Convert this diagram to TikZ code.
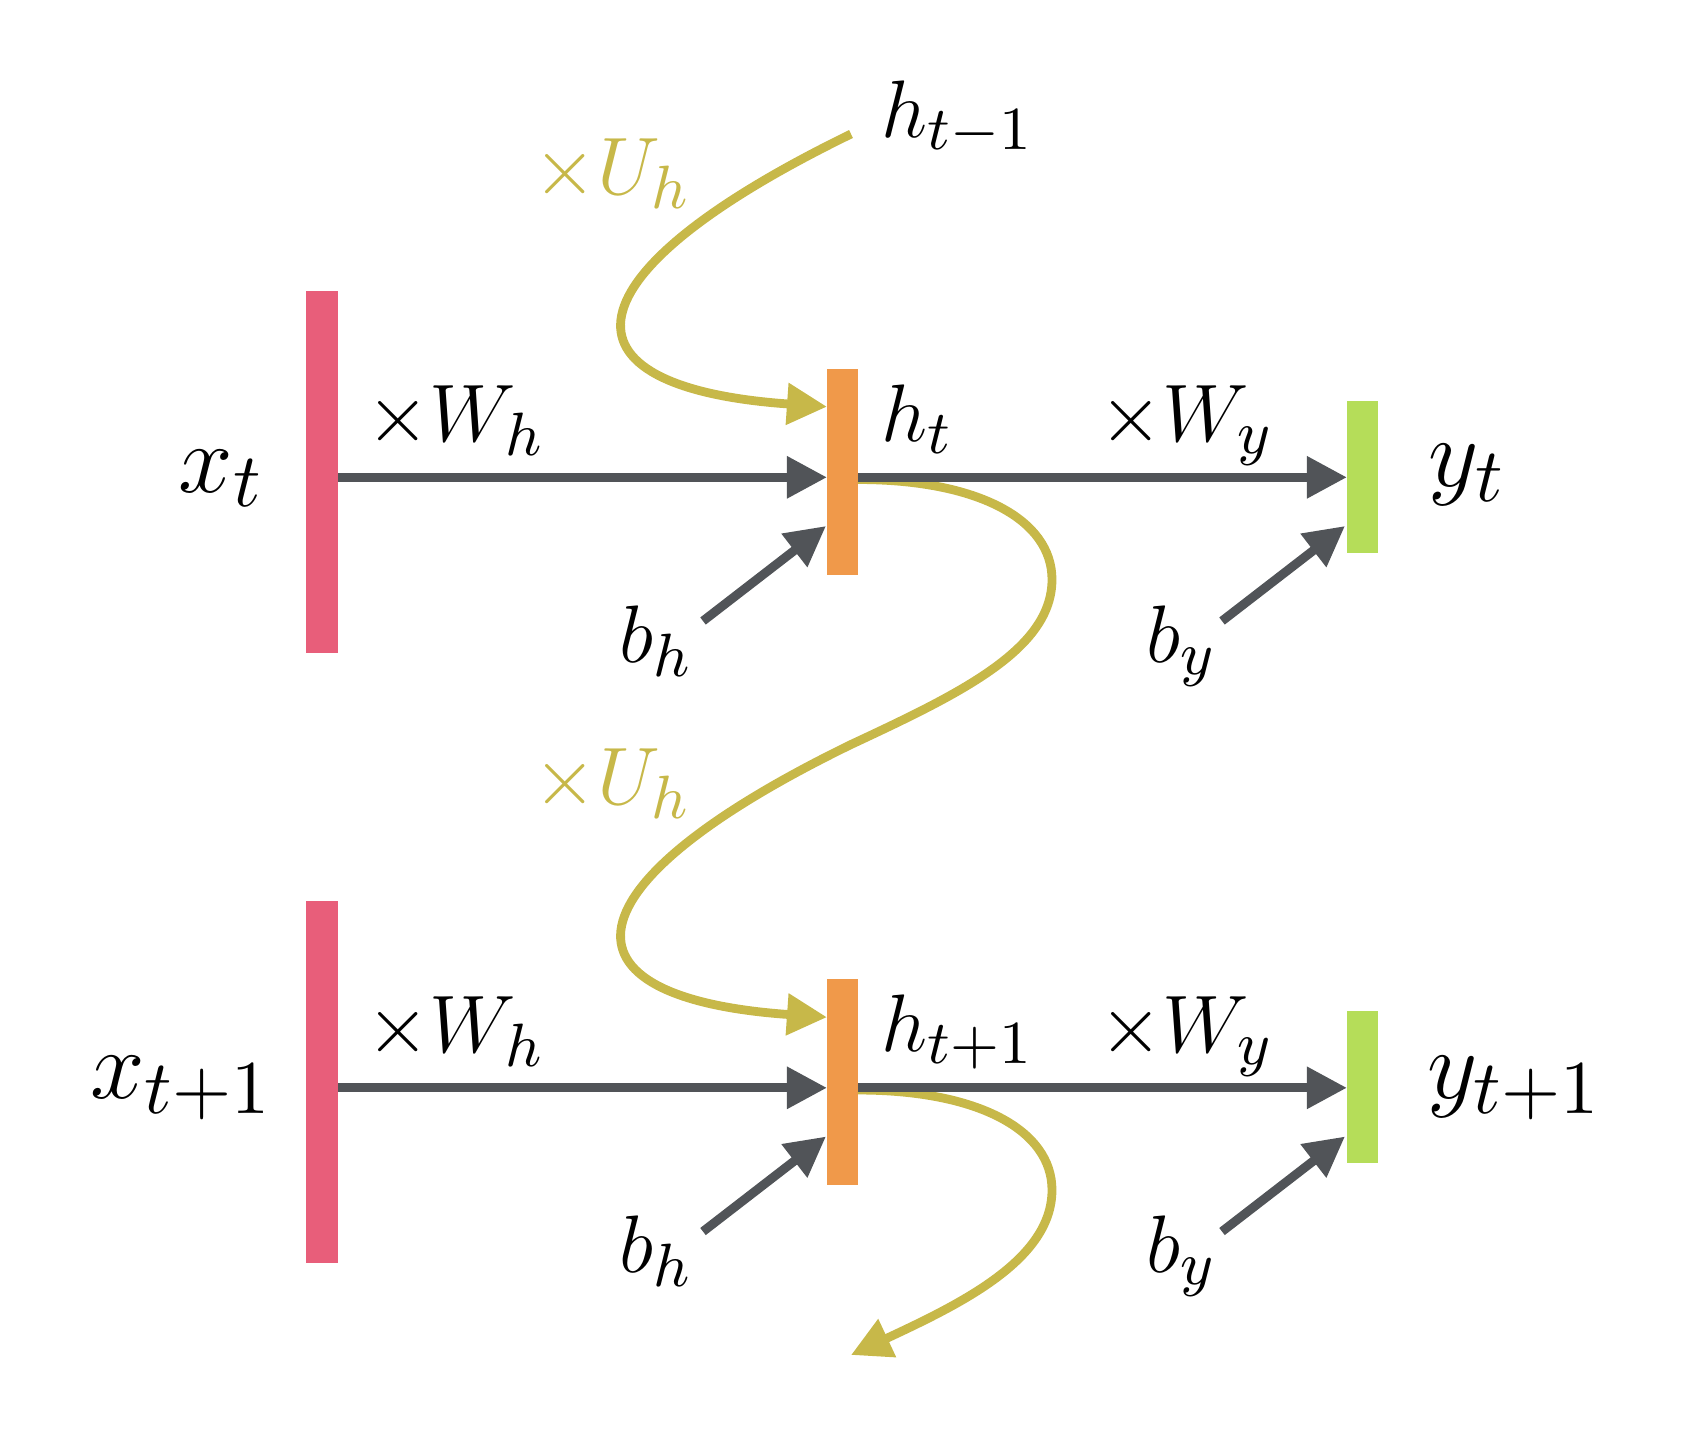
\RequirePackage{fix-cm}
\documentclass[tikz,border=0pt]{standalone}
\usetikzlibrary{arrows.meta}
\definecolor{cpink}{HTML}{E85E7A}
\definecolor{corange}{HTML}{F0994A}
\definecolor{cgreen}{HTML}{B5DD59}
\definecolor{cgray}{HTML}{515458}
\definecolor{cyel}{HTML}{C7B849}
\DeclareMathSizes{12}{12}{9}{7}
\DeclareMathSizes{14.4}{14.4}{11.2}{8}
\tikzset{
  bar/.style={rectangle, inner sep=0pt, outer sep=0pt, draw=none},
  garrow/.style={draw=cgray, line width=0.09cm, -{Triangle[length=0.4cm,width=0.4cm]}},
  yarrow/.style={draw=cyel, line width=0.088cm, -{Triangle[length=0.4cm,width=0.4cm]}},
  lab/.style={inner sep=0pt, outer sep=0pt, anchor=base west, font=\large, scale=1.933},
  big/.style={inner sep=0pt, outer sep=0pt, anchor=base west, font=\Large, scale=1.933},
}
\begin{document}
\begin{tikzpicture}[x=0.01cm,y=0.01cm]
\useasboundingbox (0,0) rectangle (1702,-1432);
% bars
\node[bar, fill=cpink,   minimum width=0.32cm,  minimum height=3.617cm] (px1) at (322,-471.85) {};
\node[bar, fill=cpink,   minimum width=0.32cm,  minimum height=3.617cm] (px2) at (322,-1082.35) {};
\node[bar, fill=corange, minimum width=0.31cm,  minimum height=2.057cm] (oh1) at (842.5,-471.85) {};
\node[bar, fill=corange, minimum width=0.31cm,  minimum height=2.057cm] (oh2) at (842.5,-1082.35) {};
\node[bar, fill=cgreen,  minimum width=0.307cm, minimum height=1.517cm] (gy1) at (1362.3,-476.85) {};
\node[bar, fill=cgreen,  minimum width=0.307cm, minimum height=1.517cm] (gy2) at (1362.3,-1087.35) {};
% row levels and free ends
\coordinate (r1) at (0,-477.3);
\coordinate (r2) at (0,-1087.8);
\coordinate (hprev) at (851,-134);
\coordinate (in1) at (827,-406.7);
\coordinate (in2) at (827,-1017.2);
\coordinate (out1) at (858,-479.5);
\coordinate (out2) at (858,-1090);
\coordinate (next) at (851,-1355);
\coordinate (bh1) at (703,-621);
\coordinate (bh1t) at (826,-526);
\coordinate (by1) at (1222,-621);
\coordinate (by1t) at (1345,-526);
\coordinate (bh2) at (703,-1231.5);
\coordinate (bh2t) at (826,-1136.5);
\coordinate (by2) at (1222,-1231.5);
\coordinate (by2t) at (1345,-1136.5);
% recurrent connections
\draw[yarrow] (hprev) .. controls (563.3,-274.2) and (547.6,-387.1) .. (in1);
\draw[yarrow] (out1) .. controls (978,-479.5) and (1052,-519.5) .. (1052,-579.5)
   .. controls (1052,-649.5) and (959.7,-693.7) .. (851,-744.5)
   .. controls (563.3,-884.7) and (547.6,-997.6) .. (in2);
\draw[yarrow] (out2) .. controls (978,-1090) and (1052,-1130) .. (1052,-1190)
   .. controls (1052,-1260) and (959.7,-1304.2) .. (next);
% forward connections
\draw[garrow] (px1.east |- r1) -- (oh1.west |- r1);
\draw[garrow] (oh1.east |- r1) -- (gy1.west |- r1);
\draw[garrow] (px2.east |- r2) -- (oh2.west |- r2);
\draw[garrow] (oh2.east |- r2) -- (gy2.west |- r2);
\draw[garrow] (bh1) -- (bh1t);
\draw[garrow] (by1) -- (by1t);
\draw[garrow] (bh2) -- (bh2t);
\draw[garrow] (by2) -- (by2t);
% labels
\node[big] (lxt) at (178.9,-492) {$x_t$};
\node[big] (lxt1) at (90.5,-1098) {$x_{t+1}$};
\node[big] (lyt) at (1428.7,-486.5) {$y_t$};
\node[big] (lyt1) at (1427,-1098) {$y_{t+1}$};
\node[lab] (lwh1) at (366.3,-441.5) {$\times W_h$};
\node[lab] (lwh2) at (366.3,-1052) {$\times W_h$};
\node[lab] (lwy1) at (1099,-441.5) {$\times W_y$};
\node[lab] (lwy2) at (1099,-1052) {$\times W_y$};
\node[lab] (lht) at (881.8,-441) {$h_t$};
\node[lab] (lht1) at (881.8,-1051.5) {$h_{t+1}$};
\node[lab] (lhtm) at (881.8,-137.5) {$h_{t-1}$};
\node[lab, text=cyel] (lu1) at (533.7,-194) {$\times U_h$};
\node[lab, text=cyel] (lu2) at (533.7,-804.5) {$\times U_h$};
\node[lab] (lbh1) at (619.7,-662) {$b_h$};
\node[lab] (lbh2) at (619.7,-1272.5) {$b_h$};
\node[lab] (lby1) at (1146.7,-662) {$b_y$};
\node[lab] (lby2) at (1146.7,-1272.5) {$b_y$};
\end{tikzpicture}
\end{document}
